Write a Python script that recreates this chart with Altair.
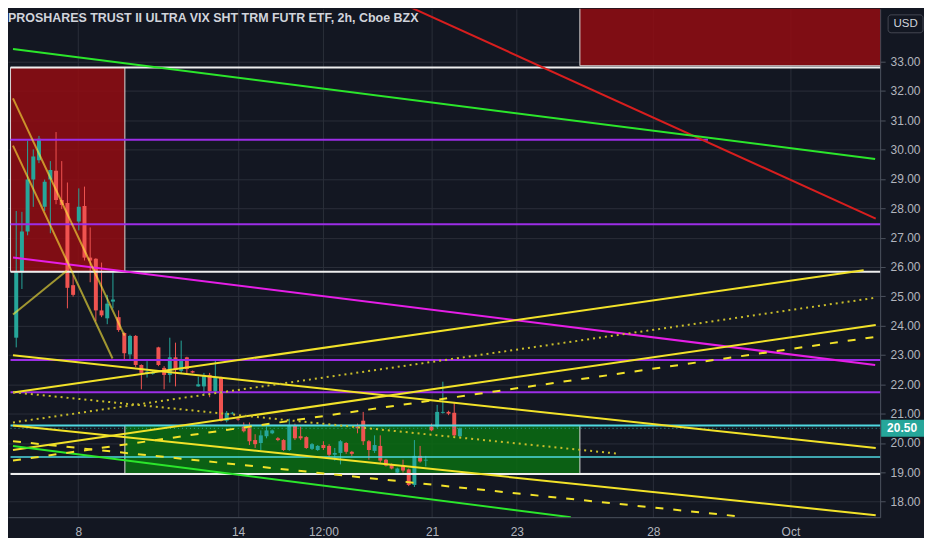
import altair as alt
import pandas as pd

# ---------------- data ----------------
# 2h candles (bar index 0..78)
opens = [23.59, 25.82, 27.21, 28.98, 29.64, 28.05, 28.98, 29.28, 28.28, 28.18,
         25.38, 27.55, 28.08, 26.32, 26.28, 24.52, 24.25, 24.82, 24.29, 23.75,
         23.02, 23.65, 22.66, 22.39, 22.36, 23.26, 22.56, 22.32, 22.92, 22.46,
         22.92, 22.45, 21.93, 21.93, 22.32, 21.76, 22.23, 20.76, 21.00, 20.83,
         20.56, 20.53, 20.10, 20.00, 20.23, 20.33, 20.16, 20.10, 19.76, 20.60,
         20.23, 20.20, 19.80, 19.76, 19.93, 19.90, 19.60, 19.66, 20.00, 19.70,
         20.56, 20.76, 20.06, 19.73, 19.90, 19.43, 19.27, 18.99, 19.23, 19.10,
         18.57, 19.56, 19.40, 20.56, 20.56, 21.03, 21.06, 21.03, 20.23]
highs = [27.91, 27.88, 30.31, 30.01, 30.47, 28.98, 29.61, 30.60, 29.61, 28.88,
         25.72, 28.68, 28.74, 27.35, 26.30, 26.15, 25.05, 25.82, 24.52, 23.77,
         23.69, 23.68, 22.68, 22.79, 22.46, 23.28, 22.62, 23.59, 23.42, 23.49,
         22.94, 22.47, 22.26, 22.39, 22.39, 22.86, 22.26, 21.09, 21.06, 20.90,
         20.70, 20.70, 20.30, 20.43, 20.56, 20.46, 20.20, 20.13, 20.83, 20.66,
         20.56, 20.23, 20.00, 19.93, 20.06, 19.96, 19.83, 20.10, 20.03, 19.73,
         20.66, 21.06, 20.10, 20.26, 20.26, 19.46, 19.30, 19.16, 19.43, 19.13,
         20.10, 19.90, 19.56, 20.66, 21.30, 22.09, 21.10, 21.40, 20.53]
lows = [23.26, 25.25, 27.08, 28.05, 29.54, 27.91, 27.15, 28.14, 27.98, 24.59,
        24.99, 27.25, 26.22, 25.48, 24.15, 24.29, 24.05, 24.59, 23.79, 22.86,
        22.83, 22.59, 21.83, 22.23, 22.33, 22.62, 21.83, 22.06, 21.93, 22.39,
        22.32, 22.38, 21.92, 21.66, 21.56, 21.73, 20.73, 20.70, 20.97, 20.76,
        20.36, 19.93, 19.83, 19.76, 20.16, 20.30, 20.06, 19.73, 19.73, 20.10,
        20.10, 19.80, 19.76, 19.73, 19.76, 19.53, 19.40, 19.27, 19.63, 19.56,
        20.33, 19.93, 19.43, 19.66, 19.33, 19.20, 19.10, 18.96, 18.99, 18.53,
        18.50, 19.33, 19.20, 20.40, 20.50, 21.00, 20.95, 20.23, 20.20]
closes = [25.82, 27.21, 28.98, 29.77, 30.37, 28.91, 29.31, 28.28, 28.11, 25.29,
          25.05, 28.05, 26.32, 26.22, 24.52, 24.35, 24.75, 24.89, 23.85, 23.06,
          23.65, 22.66, 22.39, 22.43, 22.42, 22.66, 22.32, 22.92, 22.49, 22.82,
          22.52, 22.40, 22.00, 22.32, 21.76, 22.23, 20.76, 21.03, 21.03, 20.80,
          20.40, 20.06, 19.96, 20.26, 20.43, 20.43, 20.10, 19.76, 20.60, 20.16,
          20.16, 19.83, 19.96, 19.90, 19.83, 19.60, 19.66, 20.06, 19.70, 19.63,
          20.50, 20.06, 19.76, 19.93, 19.40, 19.23, 19.13, 19.13, 19.06, 18.57,
          19.56, 19.37, 19.43, 20.43, 21.06, 21.06, 21.00, 20.26, 20.50]

# horizontal levels (price, from bar, to bar, colour)
level_prices = [32.80, 30.34, 27.46, 25.84, 22.83, 21.73, 20.60, 19.52, 18.94]
level_from = [-1.0, -1.0, -1.0, -1.0, -1.0, -1.0, -1.0, -1.0, -1.0]
level_to = [152.0, 121.6, 152.0, 152.0, 152.0, 152.0, 152.0, 152.0, 152.0]
level_colors = ["#eeeeee", "#9c2ee6", "#9c2ee6", "#eeeeee", "#9c2ee6",
                "#9c2ee6", "#4fd8e0", "#4fd8e0", "#eeeeee"]
level_widths = [2, 2, 2, 2, 2, 2, 2, 1.5, 2]

# trend lines (bar1, price1, bar2, price2, colour, style, opacity)
trend_x1 = [68.0, -0.57, -0.57, -0.57, -0.57, -0.57, -0.57, -0.57,
            -0.57, -0.57, -0.57, -0.57, -0.57, -0.57, -0.57]
trend_y1 = [34.97, 33.43, 26.32, 21.72, 22.99, 19.76, 20.60, 19.90,
            31.75, 30.14, 24.38, 19.40, 20.06, 20.70, 21.73]
trend_x2 = [151.1, 151.0, 151.0, 148.98, 151.1, 151.1, 151.1, 97.49,
            19.04, 16.93, 8.89, 151.1, 127.94, 151.0, 106.09]
trend_y2 = [27.65, 29.68, 22.66, 25.89, 19.83, 24.02, 17.54, 17.47,
            23.66, 22.88, 25.87, 23.62, 17.48, 24.95, 19.63]
trend_colors = ["#d81e1e", "#2be62b", "#e51ee6", "#f2e229", "#f2e229",
                "#f2e229", "#f2e229", "#2be62b", "#ffeb3b", "#ffeb3b",
                "#ffeb3b", "#f2e229", "#f2e229", "#c9bd2a", "#c9bd2a"]
trend_styles = ["solid", "solid", "solid", "solid", "solid", "solid", "solid",
                "solid", "solid", "solid", "solid", "dash", "dash", "dot", "dot"]
trend_opacity = [1, 1, 1, 1, 1, 1, 1, 1, 0.6, 0.6, 0.6, 1, 1, 1, 1]

# zones (bar from, bar to, price low, price high, fill)
zone_x1 = [-1.0, 99.09, 19.10]
zone_x2 = [19.10, 153.0, 99.09]
zone_lo = [25.84, 32.86, 18.94]
zone_hi = [32.80, 36.0, 20.60]
zone_fill = ["#930c12", "#930c12", "#0b6d12"]

# time axis
tick_pos = [10.9, 39.0, 54.0, 73.1, 88.0, 112.0, 136.1]
tick_text = ["8", "14", "12:00", "21", "23", "28", "Oct"]
price_ticks = list(range(18, 34))
last_price = 20.50

TITLE = "PROSHARES TRUST II ULTRA VIX SHT TRM FUTR ETF, 2h, Cboe BZX"

# ---------------- tables ----------------
UP, DOWN = "#26a69a", "#ef5350"
candles = pd.DataFrame({"i": list(range(len(opens))), "open": opens, "high": highs,
                        "low": lows, "close": closes})
candles["col"] = [UP if c >= o else DOWN for o, c in zip(opens, closes)]

levels = pd.DataFrame({"p": level_prices, "a": level_from, "b": level_to,
                       "col": level_colors, "w": level_widths})
trends = pd.DataFrame({"x1": trend_x1, "y1": trend_y1, "x2": trend_x2, "y2": trend_y2,
                       "col": trend_colors, "style": trend_styles, "op": trend_opacity})
zones = pd.DataFrame({"x1": zone_x1, "x2": zone_x2, "lo": zone_lo, "hi": zone_hi,
                      "fill": zone_fill})
last = pd.DataFrame({"p": [last_price], "a": [-1.0], "b": [152.0],
                     "lo": [last_price - 0.29], "hi": [last_price + 0.29],
                     "txt": [f"{last_price:.2f}"]})
one = pd.DataFrame({"k": [0]})

W, H = 875, 510
BG = "#131722"
FONT = "Liberation Sans"

xs = alt.Scale(domain=[-0.57, 151.0], nice=False, zero=False)
ys = alt.Scale(domain=[17.47, 34.80], nice=False, zero=False)

expr = "'" + tick_text[-1] + "'"
for k in range(len(tick_pos) - 2, -1, -1):
    mid = (tick_pos[k] + tick_pos[k + 1]) / 2
    expr = f"datum.value < {mid:.2f} ? '{tick_text[k]}' : ({expr})"

x_axis = alt.Axis(values=tick_pos, labelExpr=expr, grid=True, gridColor="#2a2e39",
                  domainColor="#4c525e", tickSize=0, labelPadding=9,
                  labelColor="#b2b5be", labelFontSize=12, labelFont=FONT, title=None)
y_axis = alt.Axis(orient="right", values=price_ticks, format=".2f", grid=True,
                  gridColor="#2a2e39", domainColor="#4c525e", tickColor="#4c525e",
                  tickSize=5, labelPadding=5, labelColor="#b2b5be", labelFontSize=12,
                  labelFont=FONT, title=None)


def X(f):
    return alt.X(f, type="quantitative", scale=xs, axis=x_axis)


def Y(f):
    return alt.Y(f, type="quantitative", scale=ys, axis=y_axis)


zone_layer = alt.Chart(zones).mark_rect(clip=True, fillOpacity=0.85, stroke="#d9d9d9",
                                        strokeWidth=1).encode(
    x=X("x1"), x2="x2", y=Y("lo"), y2="hi", fill=alt.Fill("fill:N", scale=None))

wicks = alt.Chart(candles).mark_rule(strokeWidth=1, clip=True).encode(
    x=X("i"), y=Y("low"), y2="high", color=alt.Color("col:N", scale=None))
bodies = alt.Chart(candles).mark_bar(size=4, clip=True).encode(
    x=X("i"), y=Y("open"), y2="close", color=alt.Color("col:N", scale=None))

level_layer = alt.Chart(levels).mark_rule(clip=True).encode(
    x=X("a"), x2="b", y=Y("p"), color=alt.Color("col:N", scale=None),
    strokeWidth=alt.StrokeWidth("w:Q", scale=None))

price_line = alt.Chart(last).mark_rule(clip=True, color=UP, strokeWidth=1,
                                       strokeDash=[1, 3]).encode(
    x=X("a"), x2="b", y=Y("p"))


def trend_layer(style, dash):
    kw = {"clip": True, "strokeWidth": 2}
    if dash:
        kw["strokeDash"] = dash
    return alt.Chart(trends).transform_filter(alt.datum.style == style).mark_rule(**kw).encode(
        x=X("x1"), x2="x2", y=Y("y1"), y2="y2",
        color=alt.Color("col:N", scale=None), opacity=alt.Opacity("op:Q", scale=None))


solid = trend_layer("solid", None)
dashed = trend_layer("dash", [8, 10])
dotted = trend_layer("dot", [2, 4])

price_box = alt.Chart(last).mark_rect(color=UP, clip=False).encode(
    x=alt.value(W + 1), x2=alt.value(W + 44), y=Y("lo"), y2="hi")
price_txt = alt.Chart(last).mark_text(color="#ffffff", fontSize=12, font=FONT,
                                      fontWeight="bold", clip=False).encode(
    x=alt.value(W + 22), y=Y("p"), text="txt:N")

usd_box = alt.Chart(one).mark_rect(fill=BG, stroke="#434651", strokeWidth=1,
                                   cornerRadius=3, clip=False).encode(
    x=alt.value(W + 8), x2=alt.value(W + 43), y=alt.value(6), y2=alt.value(24))
usd_txt = alt.Chart(one).mark_text(text="USD", color="#d1d4dc", fontSize=11.5,
                                   font=FONT, clip=False).encode(
    x=alt.value(W + 25.5), y=alt.value(15))

title = alt.Chart(one).mark_text(text=TITLE, color="#d1d4dc", fontSize=12.5,
                                 font=FONT, fontWeight="bold", align="left",
                                 baseline="middle").encode(
    x=alt.value(0), y=alt.value(9))

chart = alt.layer(
    zone_layer, wicks, bodies, level_layer, price_line, solid, dashed, dotted,
    price_box, price_txt, usd_box, usd_txt, title
).properties(
    width=W, height=H, background=BG, padding=0
).configure_view(stroke=None).configure_axis(labelFlush=False, labelOverlap=False)

chart.save("out.html", embed_options={"renderer": "svg", "actions": False})
